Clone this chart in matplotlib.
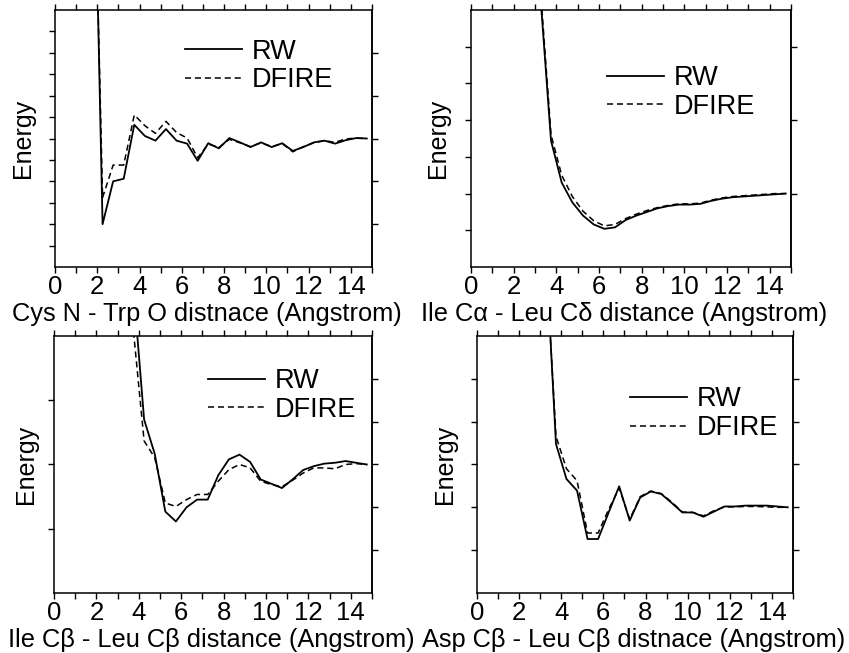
import matplotlib
matplotlib.use("Agg")
import matplotlib.pyplot as plt

plt.rcParams['font.family'] = ['Liberation Sans', 'DejaVu Sans']

# panel 1: Cys N - Trp O
x1 = [1.75, 2.25, 2.75, 3.25, 3.75, 4.25, 4.75, 5.25, 5.75, 6.25, 6.75, 7.25, 7.75, 8.25,
      8.75, 9.25, 9.75, 10.25, 10.75, 11.25, 11.75, 12.25, 12.75, 13.25, 13.75, 14.25, 14.75]
rw1 = [9.5, -2.0, -1.0, -0.94, 0.32, 0.06, -0.05, 0.22, -0.05, -0.12, -0.52, -0.11, -0.23, 0.01,
       -0.09, -0.2, -0.09, -0.2, -0.11, -0.29, -0.2, -0.09, -0.05, -0.12, -0.04, 0.01, 0.0]
df1 = [9.0, -1.38, -0.62, -0.62, 0.55, 0.3, 0.12, 0.4, 0.14, 0.01, -0.45, -0.13, -0.21, -0.02,
       -0.1, -0.19, -0.1, -0.19, -0.12, -0.31, -0.19, -0.1, -0.05, -0.09, -0.01, 0.01, 0.0]

# panel 2: Ile CA - Leu CD
x2 = [3.25, 3.75, 4.25, 4.75, 5.25, 5.75, 6.25, 6.75, 7.25, 7.75, 8.25, 8.75,
      9.25, 9.75, 10.25, 10.75, 11.25, 11.75, 12.25, 12.75, 13.25, 13.75, 14.25, 14.75]
rw2 = [2.7, 0.72, 0.15, -0.12, -0.30, -0.42, -0.48, -0.46, -0.36, -0.30, -0.25, -0.20,
       -0.17, -0.15, -0.15, -0.14, -0.10, -0.07, -0.05, -0.04, -0.03, -0.02, -0.01, 0.0]
df2 = [2.8, 0.8, 0.25, -0.04, -0.24, -0.37, -0.44, -0.42, -0.34, -0.28, -0.23, -0.19,
       -0.16, -0.14, -0.14, -0.13, -0.09, -0.06, -0.04, -0.03, -0.02, -0.01, 0.0, 0.0]

# panel 3: Ile CB - Leu CB
x3 = [3.75, 4.25, 4.75, 5.25, 5.75, 6.25, 6.75, 7.25, 7.75, 8.25, 8.75, 9.25,
      9.75, 10.25, 10.75, 11.25, 11.75, 12.25, 12.75, 13.25, 13.75, 14.25, 14.75]
rw3 = [4.1, 1.05, 0.25, -1.1, -1.33, -1.0, -0.82, -0.82, -0.25, 0.12, 0.23, 0.06,
       -0.35, -0.45, -0.55, -0.35, -0.13, -0.04, 0.02, 0.04, 0.08, 0.04, 0.0]
df3 = [3.1, 0.55, 0.16, -0.9, -0.98, -0.82, -0.7, -0.7, -0.39, -0.12, 0.0, -0.08,
       -0.39, -0.47, -0.52, -0.37, -0.2, -0.08, -0.08, -0.1, 0.0, 0.02, 0.0]

# panel 4: Asp CB - Leu CB
x4 = [3.25, 3.75, 4.25, 4.75, 5.25, 5.75, 6.25, 6.75, 7.25, 7.75, 8.25, 8.75,
      9.25, 9.75, 10.25, 10.75, 11.25, 11.75, 12.25, 12.75, 13.25, 13.75, 14.25, 14.75]
rw4 = [6.2, 1.48, 0.66, 0.39, -0.74, -0.74, -0.12, 0.49, -0.31, 0.23, 0.37, 0.31,
       0.1, -0.12, -0.12, -0.22, -0.1, 0.02, 0.02, 0.04, 0.04, 0.04, 0.02, 0.0]
df4 = [6.0, 1.66, 0.9, 0.62, -0.6, -0.6, -0.05, 0.45, -0.28, 0.25, 0.38, 0.32,
       0.12, -0.11, -0.12, -0.2, -0.08, 0.01, 0.01, 0.02, 0.02, 0.01, 0.0, 0.0]

xlabels = ["Cys N - Trp O distnace (Angstrom)",
           "Ile C\u03b1 - Leu C\u03b4 distance (Angstrom)",
           "Ile C\u03b2 - Leu C\u03b2 distance (Angstrom)",
           "Asp C\u03b2 - Leu C\u03b2 distnace (Angstrom)"]
xticks_major = [0, 2, 4, 6, 8, 10, 12, 14]
xticks_minor = [1, 3, 5, 7, 9, 11, 13, 15]

panels = [
    # rect, x, rw, dfire, ylim, left ticks, right ticks, legend anchor, ylabel x, xlabel x
    ([0.0648, 0.5911, 0.3734, 0.3936], x1, rw1, df1, (-3, 3),
     [-2.5, -2, -1.5, -1, -0.5, 0, 0.5, 1, 1.5, 2, 2.5], [-2, -1, 0, 1, 2],
     (0.41, 0.782), -0.063, 0.478),
    ([0.5548, 0.5911, 0.3769, 0.3936], x2, rw2, df2, (-1, 2.5),
     [-0.5, 0, 0.5, 1, 1.5, 2], [0, 1, 2],
     (0.425, 0.679), -0.066, 0.478),
    ([0.0636, 0.0919, 0.3746, 0.3936], x3, rw3, df3, (-3, 3),
     [-1.5, 0, 1.5], [-2, -1, 0, 1, 2],
     (0.484, 0.768), -0.05, 0.494),
    ([0.5618, 0.0919, 0.3722, 0.3936], x4, rw4, df4, (-2, 4),
     [-1, 0, 1, 2, 3], [-1, 0, 1, 2, 3],
     (0.484, 0.697), -0.063, 0.497),
]

fig = plt.figure(figsize=(8.49, 6.53), dpi=100)

for i, (rect, x, rw, dfire, ylim, lt, rt, leg, ylx, xlx) in enumerate(panels):
    ax = fig.add_axes(rect)
    ax.plot(x, rw, color='black', lw=1.3, label='RW')
    ax.plot(x, dfire, color='black', lw=1.1, ls=(0, (4, 2.5)), label='DFIRE')
    ax.set_xlim(0, 15)
    ax.set_ylim(*ylim)
    ax.set_xticks(xticks_major)
    ax.set_xticks(xticks_minor, minor=True)
    ax.set_yticks(lt)
    ax.tick_params(axis='x', which='both', direction='out', top=True, length=4, width=1,
                   labelsize=18.5, pad=1.5)
    ax.tick_params(axis='y', which='both', direction='out', left=True, right=False,
                   labelleft=False, length=4, width=1)
    sec = ax.secondary_yaxis('right')
    sec.set_yticks(rt)
    sec.tick_params(direction='out', length=4, width=1, labelright=False)
    for sp in ax.spines.values():
        sp.set_linewidth(1.1)
    sec.spines['right'].set_linewidth(1.1)
    ax.set_ylabel('Energy', fontsize=18)
    ax.yaxis.set_label_coords(ylx, 0.5)
    ax.set_xlabel(xlabels[i], fontsize=18.3)
    ax.xaxis.set_label_coords(xlx, -0.135)
    ax.legend(loc='center left', bbox_to_anchor=leg, frameon=False, fontsize=19.5,
              handlelength=2.1, handletextpad=0.35, labelspacing=0.1,
              borderpad=0, borderaxespad=0)

fig.savefig('out.png', dpi=100)
